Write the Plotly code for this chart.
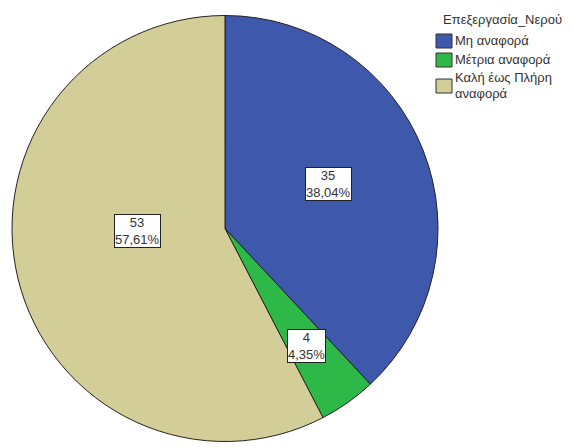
import plotly.graph_objects as go

categories = ["Μη αναφορά", "Μέτρια αναφορά", "Καλή έως Πλήρη<br>αναφορά"]
counts = [35, 4, 53]
colors = ["#3E58AC", "#2EB848", "#D3CE97"]
legend_title = "Επεξεργασία_Νερού"

W, H = 573, 448
total = sum(counts)
labels_text = [f"{c}<br>{c / total * 100:.2f}%".replace(".", ",") for c in counts]
FONT = "Arial, Liberation Sans"

fig = go.Figure(go.Pie(
    labels=categories,
    values=counts,
    marker=dict(colors=colors, line=dict(color="#222222", width=1)),
    sort=False,
    direction="clockwise",
    rotation=0,
    textinfo="none",
    hoverinfo="label+value+percent",
    showlegend=False,
    domain=dict(x=[12 / W, 438 / W], y=[1 - 445 / H, 1 - 12 / H]),
))

# label box centres (pixels)
label_pos = [(328, 184), (306, 346), (137, 231)]
for (px, py), txt in zip(label_pos, labels_text):
    fig.add_annotation(
        x=px / W, y=1 - py / H, xref="paper", yref="paper",
        xanchor="center", yanchor="middle",
        text=txt, showarrow=False,
        font=dict(family=FONT, size=13, color="#333333"),
        bgcolor="white", bordercolor="#222222", borderwidth=1, borderpad=0,
        align="center",
    )

# manual legend (pixels)
fig.add_annotation(
    x=441 / W, y=1 - 19 / H, xref="paper", yref="paper",
    text=legend_title, showarrow=False, xanchor="left", yanchor="middle",
    font=dict(family=FONT, size=13, color="#333333"),
)
box_tops = [34, 53, 79]
text_centres = [41, 59, 78]
line_step = 15
for cat, col, bt, tc in zip(categories, colors, box_tops, text_centres):
    fig.add_shape(
        type="rect", xref="paper", yref="paper",
        x0=436 / W, x1=452 / W, y0=1 - bt / H, y1=1 - (bt + 14) / H,
        fillcolor=col, line=dict(color="#333333", width=1),
    )
    for i, line in enumerate(cat.split("<br>")):
        fig.add_annotation(
            x=453 / W, y=1 - (tc + i * line_step) / H, xref="paper", yref="paper",
            text=line, showarrow=False, xanchor="left", yanchor="middle",
            align="left",
            font=dict(family=FONT, size=13, color="#333333"),
        )

fig.update_layout(
    width=W, height=H,
    margin=dict(l=0, r=0, t=0, b=0),
    paper_bgcolor="white",
    plot_bgcolor="white",
    showlegend=False,
)

fig.write_html("out.html", config={"displayModeBar": False})
with open("out.html", encoding="utf-8") as f:
    html = f.read()
html = html.replace("<head>", "<head><style>html,body{margin:0;padding:0;}</style>", 1)
with open("out.html", "w", encoding="utf-8") as f:
    f.write(html)
